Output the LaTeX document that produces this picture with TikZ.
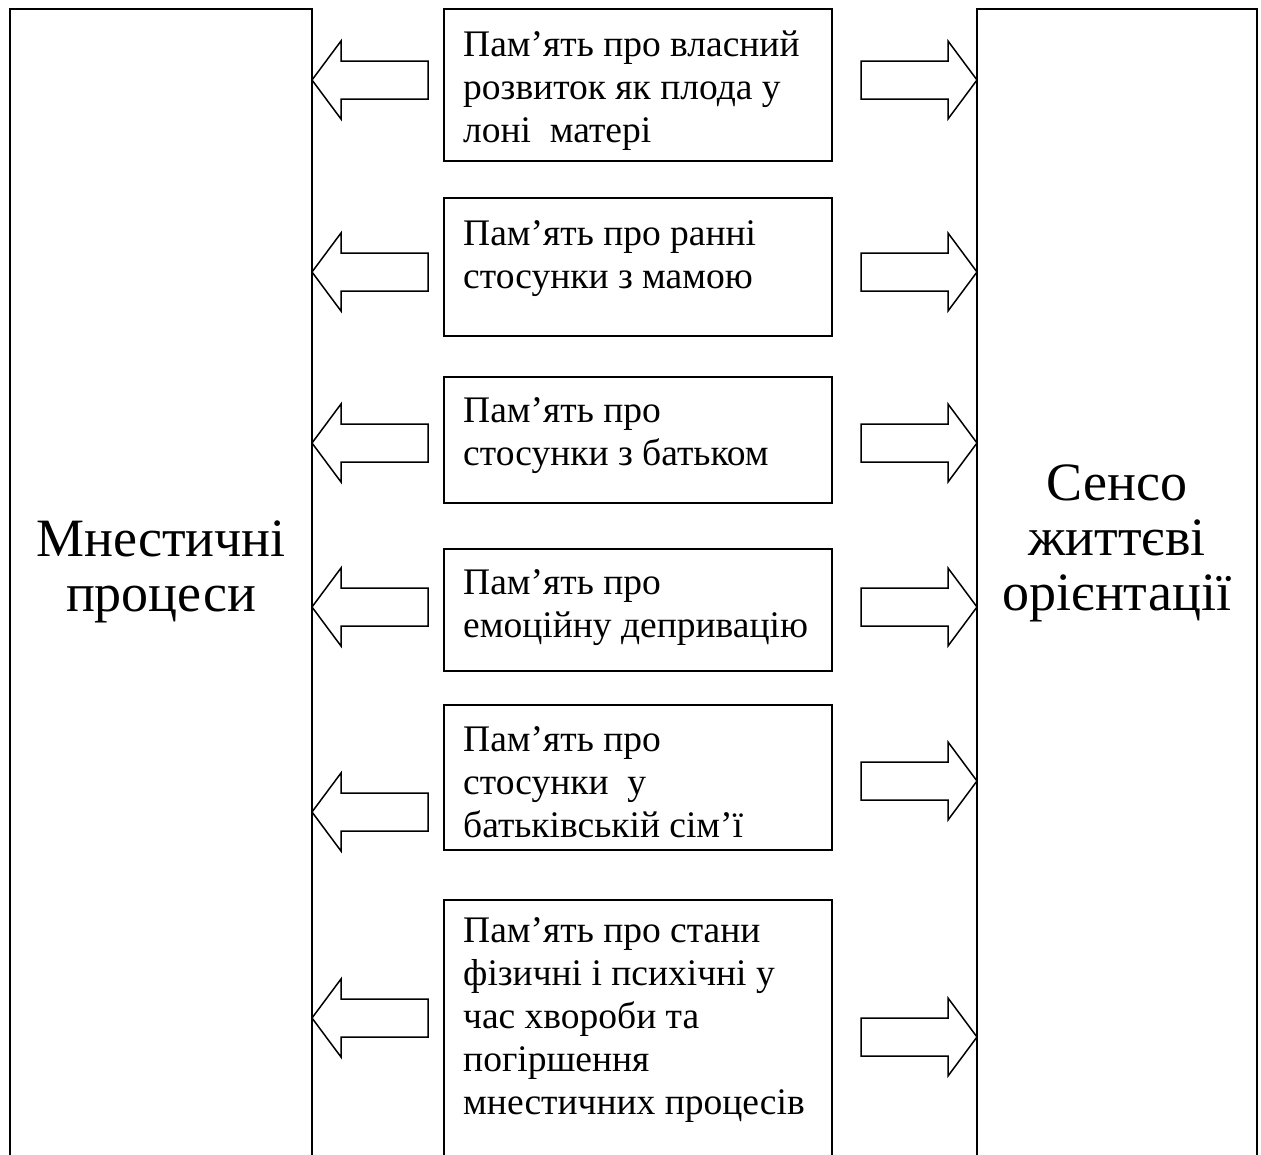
\documentclass[tikz,border=0pt]{standalone}
\usepackage{fontspec}
\setmainfont{Liberation Serif}
\newcommand{\lblock}[1]{\draw[blockarrow] (312,#1) -- ++(29,-39) -- ++(0,20) -- ++(87,0) -- ++(0,38) -- ++(-87,0) -- ++(0,20) -- cycle;}
\newcommand{\rblock}[1]{\draw[blockarrow] (977,#1) -- ++(-29,-39) -- ++(0,20) -- ++(-87,0) -- ++(0,38) -- ++(87,0) -- ++(0,20) -- cycle;}
\begin{document}
\begin{tikzpicture}[x=1pt,y=-1pt,
  bigbox/.style={draw,line width=1.9pt,rectangle,anchor=north west,inner sep=0pt,outer sep=0pt},
  membox/.style={draw,line width=1.8pt,rectangle,anchor=north west,inner sep=0pt,outer sep=0pt,minimum width=388pt},
  memtext/.style={anchor=north west,inner sep=0pt,align=left,font=\fontsize{37.5}{43}\selectfont},
  bigtext/.style={anchor=north,inner sep=0pt,align=center,font=\fontsize{54}{55}\selectfont},
  blockarrow/.style={draw,line width=1.5pt,fill=white,line join=miter}]
\useasboundingbox (0,0) rectangle (1261,1154);
\clip (0,0) rectangle (1261,1154);
\fill[white] (0,0) rectangle (1261,1154);
% large side boxes
\node[bigbox,minimum width=302pt,minimum height=1200pt] (mnest) at (10,9) {};
\node[bigbox,minimum width=280pt,minimum height=1200pt] (senso) at (977,9) {};
\node[bigtext] (mnesttxt) at (161,521) {Мнестичні\\процеси};
\node[bigtext] (sensotxt) at (1117,465) {Сенсо\\життєві\\орієнтації};
% memory boxes
\node[membox,minimum height=152pt] (m1) at (444,9) {};
\node[membox,minimum height=138pt] (m2) at (444,198) {};
\node[membox,minimum height=126pt] (m3) at (444,377) {};
\node[membox,minimum height=122pt] (m4) at (444,549) {};
\node[membox,minimum height=145pt] (m5) at (444,705) {};
\node[membox,minimum height=300pt] (m6) at (444,900) {};
\node[memtext] (t1) at (463,30.5) {Пам’ять про власний\\розвиток як плода у\\лоні\ \ матері};
\node[memtext] (t2) at (463,220.5) {Пам’ять про ранні\\стосунки з мамою};
\node[memtext] (t3) at (463,397.5) {Пам’ять про\\стосунки з батьком};
\node[memtext] (t4) at (463,569.5) {Пам’ять про\\емоційну депривацію};
\node[memtext] (t5) at (463,726.5) {Пам’ять про\\стосунки\ \ у\\батьківській сім’ї};
\node[memtext] (t6) at (463,917.5) {Пам’ять про стани\\фізичні і психічні у\\час хвороби та\\погіршення\\мнестичних процесів};
% block arrows
\lblock{80}
\lblock{272}
\lblock{443}
\lblock{607}
\lblock{812}
\lblock{1018}
\rblock{80}
\rblock{272}
\rblock{443}
\rblock{607}
\rblock{781}
\rblock{1037}
\end{tikzpicture}
\end{document}
